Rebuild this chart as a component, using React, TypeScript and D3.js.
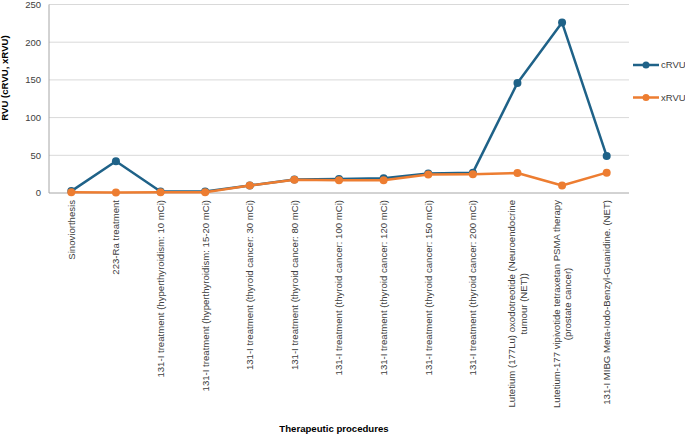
import React, { useRef, useEffect } from 'react';
import * as d3 from 'd3';

const categories: string[][] = [
  ['Sinoviorthesis'],
  ['223-Ra treatment'],
  ['131-I treatment (hyperthyroidism: 10 mCi)'],
  ['131-I treatment (hyperthyroidism: 15-20 mCi)'],
  ['131-I treatment (thyroid cancer: 30 mCi)'],
  ['131-I treatment (thyroid cancer: 80 mCi)'],
  ['131-I treatment (thyroid cancer: 100 mCi)'],
  ['131-I treatment (thyroid cancer: 120 mCi)'],
  ['131-I treatment (thyroid cancer: 150 mCi)'],
  ['131-I treatment (thyroid cancer: 200 mCi)'],
  ['Lutetium (177Lu) oxodotreotide (Neuroendocrine', 'tumour (NET))'],
  ['Lutetium-177 vipivotide tetraxetan PSMA therapy', '(prostate cancer)'],
  ['131-I MIBG Meta-Iodo-Benzyl-Guanidine. (NET)'],
];

const cRVU = [2.5, 42, 2, 2, 10, 18, 18.5, 19.5, 26, 27, 146, 226, 49];
const xRVU = [1, 0.5, 1, 1, 10, 17.5, 17, 17, 24.5, 25, 26.5, 10, 27];

const yTicks = [0, 50, 100, 150, 200, 250];

const seriesNames = ['cRVU', 'xRVU'];
const seriesColors = ['#1f6288', '#ed7d31'];

const WIDTH = 685;
const HEIGHT = 434;
const FONT = '"Liberation Sans", Arial, sans-serif';

const LineChart: React.FC = () => {
  const svgRef = useRef<SVGSVGElement>(null);

  useEffect(() => {
    if (!svgRef.current) return;
    const svg = d3.select(svgRef.current);
    svg.selectAll('*').remove();

    const margin = { top: 4.5, left: 49, right: 56, bottom: 241 };
    const innerWidth = WIDTH - margin.left - margin.right;
    const innerHeight = HEIGHT - margin.top - margin.bottom;

    const g = svg.append('g')
      .attr('transform', `translate(${margin.left},${margin.top})`);

    const xScale = d3.scaleBand<number>()
      .domain(d3.range(categories.length))
      .range([0, innerWidth]);
    const xc = (i: number) => (xScale(i) ?? 0) + xScale.bandwidth() / 2;

    const yScale = d3.scaleLinear()
      .domain([0, 250])
      .range([innerHeight, 0]);

    // gridlines
    g.selectAll('.grid')
      .data(yTicks.filter(t => t > 0))
      .enter()
      .append('line')
      .attr('x1', 0)
      .attr('x2', innerWidth)
      .attr('y1', d => yScale(d))
      .attr('y2', d => yScale(d))
      .attr('stroke', '#d9d9d9')
      .attr('stroke-width', 1);

    // axis lines
    g.append('line')
      .attr('x1', 0).attr('x2', 0)
      .attr('y1', 0).attr('y2', innerHeight)
      .attr('stroke', '#a6a6a6');
    g.append('line')
      .attr('x1', 0).attr('x2', innerWidth)
      .attr('y1', innerHeight).attr('y2', innerHeight)
      .attr('stroke', '#a6a6a6');

    // y tick labels
    g.selectAll('.ytick')
      .data(yTicks)
      .enter()
      .append('text')
      .attr('x', -8)
      .attr('y', d => yScale(d))
      .attr('dy', '0.35em')
      .attr('text-anchor', 'end')
      .attr('font-family', FONT)
      .attr('font-size', '9.5px')
      .attr('fill', '#404040')
      .text(d => d);

    // x labels, rotated; extra lines centred on the first
    categories.forEach((lines, i) => {
      const lg = g.append('g')
        .attr('transform', `translate(${xc(i)},${innerHeight + 7}) rotate(-90)`);
      const first = lg.append('text')
        .attr('font-family', FONT)
        .attr('font-size', '9.6px')
        .attr('fill', '#404040')
        .attr('text-anchor', 'end')
        .text(lines[0]);
      const len = (first.node() as SVGTextElement).getComputedTextLength();
      first.attr('text-anchor', 'middle').attr('x', -len / 2);
      const lh = 11.5;
      const offset = -((lines.length - 1) * lh) / 2;
      first.attr('y', offset).attr('dy', '0.35em');
      lines.slice(1).forEach((ln, k) => {
        lg.append('text')
          .attr('font-family', FONT)
          .attr('font-size', '9.6px')
          .attr('fill', '#404040')
          .attr('text-anchor', 'middle')
          .attr('x', -len / 2)
          .attr('y', offset + (k + 1) * lh)
          .attr('dy', '0.35em')
          .text(ln);
      });
    });

    // series
    [cRVU, xRVU].forEach((values, s) => {
      const line = d3.line<number>()
        .x((_, i) => xc(i))
        .y(d => yScale(d));
      g.append('path')
        .datum(values)
        .attr('d', line)
        .attr('fill', 'none')
        .attr('stroke', seriesColors[s])
        .attr('stroke-width', 2.5)
        .attr('stroke-linejoin', 'round');
      g.selectAll(`.pt${s}`)
        .data(values)
        .enter()
        .append('circle')
        .attr('cx', (_, i) => xc(i))
        .attr('cy', d => yScale(d))
        .attr('r', 4)
        .attr('fill', seriesColors[s]);
    });

    // legend
    seriesNames.forEach((name, s) => {
      const ly = 65 + s * 32.5;
      svg.append('line')
        .attr('x1', 633).attr('x2', 659)
        .attr('y1', ly).attr('y2', ly)
        .attr('stroke', seriesColors[s])
        .attr('stroke-width', 2.5);
      svg.append('circle')
        .attr('cx', 646).attr('cy', ly).attr('r', 3.5)
        .attr('fill', seriesColors[s]);
      svg.append('text')
        .attr('x', 661)
        .attr('y', ly)
        .attr('dy', '0.35em')
        .attr('font-family', FONT)
        .attr('font-size', '9.5px')
        .attr('fill', '#404040')
        .text(name);
    });

    // axis titles
    svg.append('text')
      .attr('x', 334)
      .attr('y', 429)
      .attr('dy', '0.35em')
      .attr('text-anchor', 'middle')
      .attr('font-family', FONT)
      .attr('font-size', '9.6px')
      .attr('font-weight', 'bold')
      .attr('fill', '#000')
      .text('Therapeutic procedures');

    svg.append('text')
      .attr('transform', 'translate(5,78) rotate(-90)')
      .attr('dy', '0.35em')
      .attr('text-anchor', 'middle')
      .attr('font-family', FONT)
      .attr('font-size', '9.6px')
      .attr('font-weight', 'bold')
      .attr('fill', '#000')
      .text('RVU (cRVU, xRVU)');
  }, []);

  return (
    <svg
      ref={svgRef}
      width={WIDTH}
      height={HEIGHT}
      style={{ position: 'absolute', left: 0, top: 0, background: '#fff' }}
    />
  );
};

export default function App() {
  return <LineChart />;
}
